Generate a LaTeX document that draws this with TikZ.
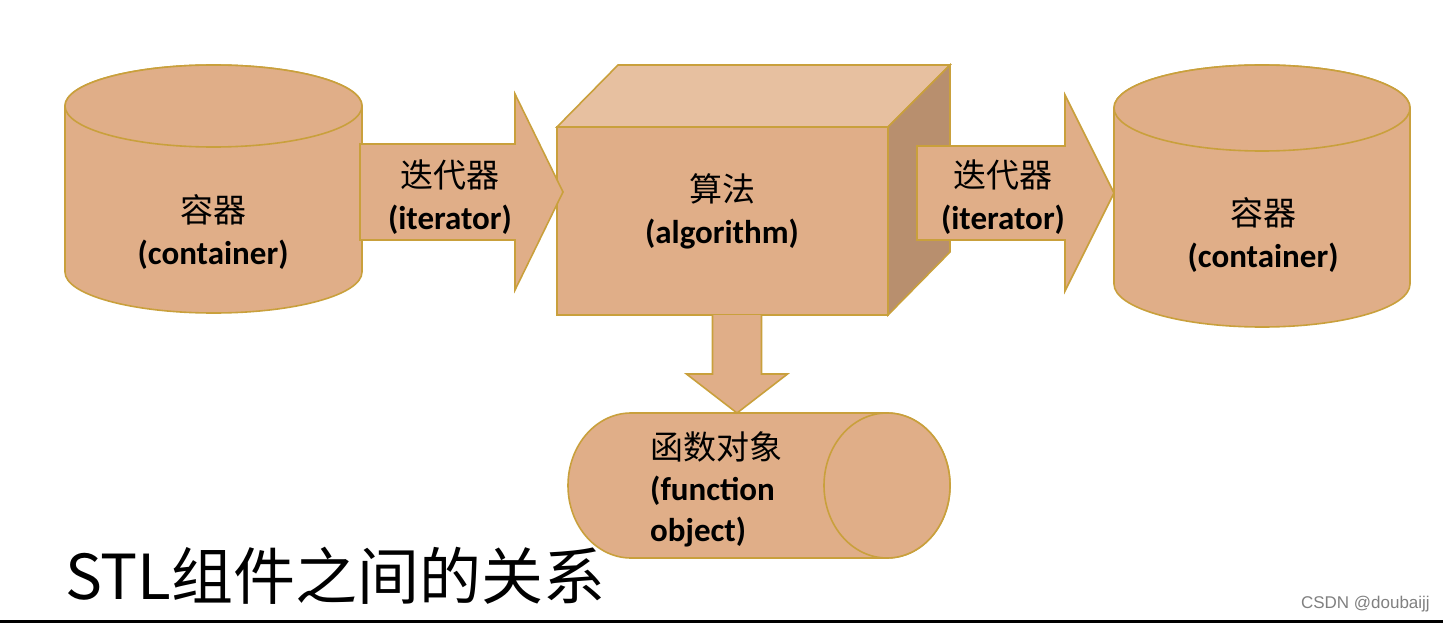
\documentclass[tikz,border=0pt]{standalone}
\usepackage{fontspec}
\setmainfont{Carlito}
\newfontfamily\cjk{Noto Sans CJK SC}
\newfontfamily\wmfont{Liberation Sans}
\usetikzlibrary{calc}

\definecolor{tan}{HTML}{E0AE88}
\definecolor{tanlight}{HTML}{E7C0A0}
\definecolor{tandark}{HTML}{B88F6E}
\definecolor{gold}{HTML}{C9A03C}

\tikzset{part/.style={fill=tan,draw=gold,line width=1.6pt,line join=miter},
        lbl/.style={font=\fontsize{33}{42}\selectfont\bfseries,align=center,inner sep=0pt},
        hand/.style={font=\cjk\fontsize{62}{62}\selectfont,inner sep=0pt}}
\newcommand\zh[1]{{\cjk\mdseries #1}}

\begin{document}
\begin{tikzpicture}[x=1pt,y=-1pt]
        \useasboundingbox[fill=white] (0,0) rectangle (1443,623);

        % containers
        \draw[part] (65,106) -- (65,272) arc[start angle=180,end angle=0,x radius=148.5,y radius=41]
                -- (362,106) arc[start angle=0,end angle=-180,x radius=148.5,y radius=41] -- cycle;
        \draw[part] (213.5,106) ellipse[x radius=148.5,y radius=41];
        \draw[part] (1114,108) -- (1114,284) arc[start angle=180,end angle=0,x radius=148,y radius=43]
                -- (1410,108) arc[start angle=0,end angle=-180,x radius=148,y radius=43] -- cycle;
        \draw[part] (1262,108) ellipse[x radius=148,y radius=43];

        % algorithm box
        \draw[part] (557,127) rectangle (888,315);
        \draw[part,fill=tanlight] (557,127) -- (618,65) -- (950,65) -- (888,127) -- cycle;
        \draw[part,fill=tandark] (888,127) -- (950,65) -- (950,252) -- (888,315) -- cycle;

        % function object
        \draw[part] (631,413) -- (887,413) arc[start angle=-90,end angle=90,x radius=63,y radius=72.5]
                -- (631,558) arc[start angle=90,end angle=270,x radius=63,y radius=72.5] -- cycle;
        \draw[part] (887,485.5) ellipse[x radius=63,y radius=72.5];

        \coordinate (it1) at (360,192);
        \coordinate (it1tip) at (563,192);
        \coordinate (it2) at (917,193);
        \coordinate (it2tip) at (1114,193);
        \coordinate (fo) at (737,315);
        \coordinate (fotip) at (737,413);

        % block arrows
        \draw[part] ($(it1)+(0,-48)$) -- ($(it1tip)+(-48,-48)$) -- ($(it1tip)+(-48,-98)$) -- (it1tip)
                -- ($(it1tip)+(-48,98)$) -- ($(it1tip)+(-48,48)$) -- ($(it1)+(0,48)$) -- cycle;
        \draw[part] ($(it2)+(0,-47)$) -- ($(it2tip)+(-49,-47)$) -- ($(it2tip)+(-49,-98)$) -- (it2tip)
                -- ($(it2tip)+(-49,98)$) -- ($(it2tip)+(-49,47)$) -- ($(it2)+(0,47)$) -- cycle;
        \draw[part] ($(fo)+(-24.5,0)$) -- ($(fotip)+(-24.5,-39)$) -- ($(fotip)+(-50.5,-39)$) -- (fotip)
                -- ($(fotip)+(50.5,-39)$) -- ($(fotip)+(24.5,-39)$) -- ($(fo)+(24.5,0)$);

        \node[lbl] (cont1) at (213,232) {\zh{容器}\\(container)};
        \node[lbl] (iter1) at (450,197) {\zh{迭代器}\\(iterator)};
        \node[lbl] (alg) at (722,211) {\zh{算法}\\(algorithm)};
        \node[lbl] (iter2) at (1003,197) {\zh{迭代器}\\(iterator)};
        \node[lbl] (cont2) at (1263,235) {\zh{容器}\\(container)};
        \node[lbl,align=left,anchor=west,font=\fontsize{33}{41}\selectfont\bfseries] (func) at (650,489)
                {\zh{函数对象}\\(function\\object)};

        \node[hand,anchor=west] (title) at (65,576) {STL组件之间的关系};
        \node[font=\wmfont\fontsize{17}{17}\selectfont,text=gray,anchor=east,inner sep=0pt] (csdn) at (1430,604) {CSDN @doubaijj};

        \draw[line width=3pt] (0,621.5) -- (1443,621.5);
\end{tikzpicture}
\end{document}
